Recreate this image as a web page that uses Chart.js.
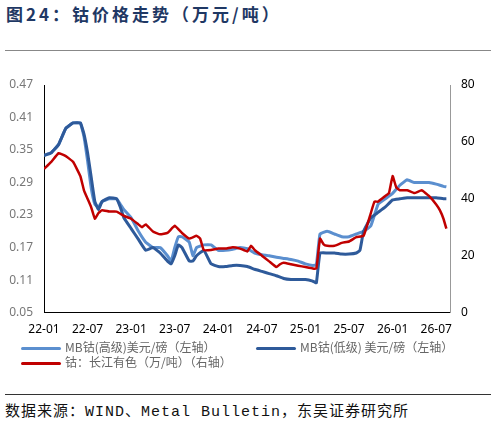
<!DOCTYPE html>
<html><head><meta charset="utf-8">
<script src="https://cdn.jsdelivr.net/npm/chart.js@4"></script>
<style>
body{margin:0;width:496px;height:425px;background:#fff;position:relative;overflow:hidden;font-family:"Noto Sans CJK SC","Noto Sans",sans-serif}
#title{position:absolute;left:6px;top:1px;font-size:17px;font-weight:bold;color:#1f3864;letter-spacing:3px}
.hr{position:absolute;left:5px;width:486px;height:1px;background:#555}
#cw{position:absolute;left:0;top:73px;width:496px;height:266px}
.lg{position:absolute;font-size:12px;color:#666;white-space:nowrap}
.lg span{display:inline-block;width:40px;height:3px;vertical-align:middle;margin-right:4px;border-radius:2px}
#src{position:absolute;left:5px;top:399px;font-size:15px;color:#111;letter-spacing:1px;font-family:"Liberation Mono","Noto Sans CJK SC",monospace}
</style></head><body>
<div id="title">图24：钴价格走势（万元/吨）</div>
<div class="hr" style="top:50px;background:#888"></div>
<div id="cw"><canvas id="c"></canvas></div>
<div class="lg" style="left:21px;top:338px"><span style="background:#5b8fcf"></span>MB钴(高级)美元/磅（左轴）</div>
<div class="lg" style="left:256px;top:338px"><span style="background:#2e5a9a"></span>MB钴(低级) 美元/磅（左轴）</div>
<div class="lg" style="left:21px;top:353px"><span style="background:#c00000"></span>钴：长江有色（万/吨）（右轴）</div>
<div class="hr" style="top:394px;background:#333"></div>
<div id="src">数据来源：WIND、Metal Bulletin，东吴证券研究所</div>
<script>
const xLabels=["22-01","22-07","23-01","23-07","24-01","24-07","25-01","25-07","26-01","26-07"];
const leftTicks=[0.05,0.11,0.17,0.23,0.29,0.35,0.41,0.47];
const rightTicks=[0,20,40,60,80];
const highM=[0,1,2,3,4,5,5.5,6,6.5,7,7.5,8,9,10,10.5,11,12,13,14,15,16,17,17.5,18,18.5,19,20,20.5,21,22,23,24,25,26,27,28,29,30,31,32,33,34,35,36,37,37.5,38,39,40,41,42,43,44,45,46,47,48,49,50,51,52,53,54,55,55.4];
const highV=[0.34,0.345,0.36,0.39,0.40,0.40,0.375,0.33,0.28,0.25,0.245,0.255,0.26,0.26,0.25,0.24,0.225,0.2,0.18,0.17,0.17,0.155,0.145,0.17,0.19,0.19,0.18,0.155,0.17,0.175,0.175,0.165,0.165,0.167,0.17,0.168,0.16,0.157,0.155,0.152,0.15,0.148,0.145,0.14,0.137,0.138,0.195,0.2,0.195,0.19,0.19,0.195,0.2,0.21,0.25,0.26,0.27,0.285,0.295,0.29,0.29,0.29,0.287,0.283,0.282];
const lowM=[0,1,2,3,4,5,5.5,6,6.5,7,7.5,8,9,10,10.5,11,12,13,14,15,16,17,17.5,18,18.5,19,20,20.5,21,22,23,24,25,26,27,28,29,30,31,32,33,34,35,36,37,37.5,38,39,40,41,42,43,43.5,44,45,46,47,48,49,50,51,52,53,54,55,55.4];
const lowV=[0.34,0.345,0.36,0.39,0.40,0.40,0.38,0.345,0.30,0.255,0.24,0.255,0.262,0.26,0.245,0.225,0.205,0.185,0.165,0.17,0.16,0.145,0.14,0.155,0.175,0.17,0.145,0.145,0.155,0.165,0.14,0.135,0.135,0.137,0.137,0.135,0.13,0.126,0.122,0.118,0.113,0.111,0.111,0.111,0.108,0.105,0.16,0.16,0.16,0.158,0.158,0.16,0.165,0.2,0.225,0.235,0.245,0.258,0.26,0.262,0.262,0.262,0.262,0.262,0.26,0.26];
const redM=[0,1,2,3,4,5,5.5,6,6.5,7,7.5,8,9,10,11,12,13,13.5,14,15,16,17,18,19,20,21,21.5,22,23,24,25,26,27,28,28.5,29,30,31,32,32.5,33,34,35,36,37,37.5,38,38.5,39,40,41,42,43,44,45,45.5,46,47,47.5,48,48.5,49,50,51,52,53,54,54.5,55,55.4];
const redV=[50.5,53,56,55,53,48,43,40,37,33,35,36,35.5,35.5,34,33,31,30,31,28.5,27.5,28,30.5,28,26,27,26,22,22,22.5,22.5,23,22.5,21.5,23.5,22,20,18,16,17,17.5,17,16.5,16,15.5,15.5,26,24,23.5,23.5,24.5,25,26.5,27,35,39,39,41,42,48,44,43,43,42,43,41,38,36,33,29.5];
const pts=(m,v)=>m.map((x,i)=>({x:x,y:v[i]}));
new Chart(document.getElementById('c'),{type:'line',
data:{datasets:[
{data:pts(redM,redV),yAxisID:'y2',borderColor:'#c00000',borderWidth:2.5,pointRadius:0,tension:0.1},
{data:pts(lowM,lowV),yAxisID:'y',borderColor:'#2e5a9a',borderWidth:3,pointRadius:0,tension:0.1},
{data:pts(highM,highV),yAxisID:'y',borderColor:'#5b8fcf',borderWidth:3,pointRadius:0,tension:0.1}
]},
options:{responsive:true,maintainAspectRatio:false,animation:false,
layout:{padding:{top:12,left:0,right:0,bottom:0}},
plugins:{legend:{display:false},tooltip:{enabled:false}},
scales:{
x:{type:'linear',min:0,max:55.9,grid:{display:false},border:{color:'#000',width:1},
 afterBuildTicks:a=>{a.ticks=xLabels.map((l,i)=>({value:i*6}));},
 ticks:{autoSkip:false,maxRotation:0,color:'#000',font:{size:12,family:'Noto Sans'},padding:2,callback:(v)=>xLabels[Math.round(v/6)]}},
y:{position:'left',min:0.05,max:0.47,grid:{display:false},border:{color:'#000',width:1},
 afterBuildTicks:a=>{a.ticks=leftTicks.map(v=>({value:v}));},
 afterFit:a=>{a.width=44;},
 ticks:{color:'#777',font:{size:12,family:'Noto Sans'},callback:v=>v.toFixed(2)}},
y2:{position:'right',min:0,max:80,grid:{display:false},border:{color:'#999',width:1},
 afterBuildTicks:a=>{a.ticks=rightTicks.map(v=>({value:v}));},
 afterFit:a=>{a.width=46;},
 ticks:{color:'#000',font:{size:12,family:'Noto Sans'}}}
}}});
</script></body></html>
